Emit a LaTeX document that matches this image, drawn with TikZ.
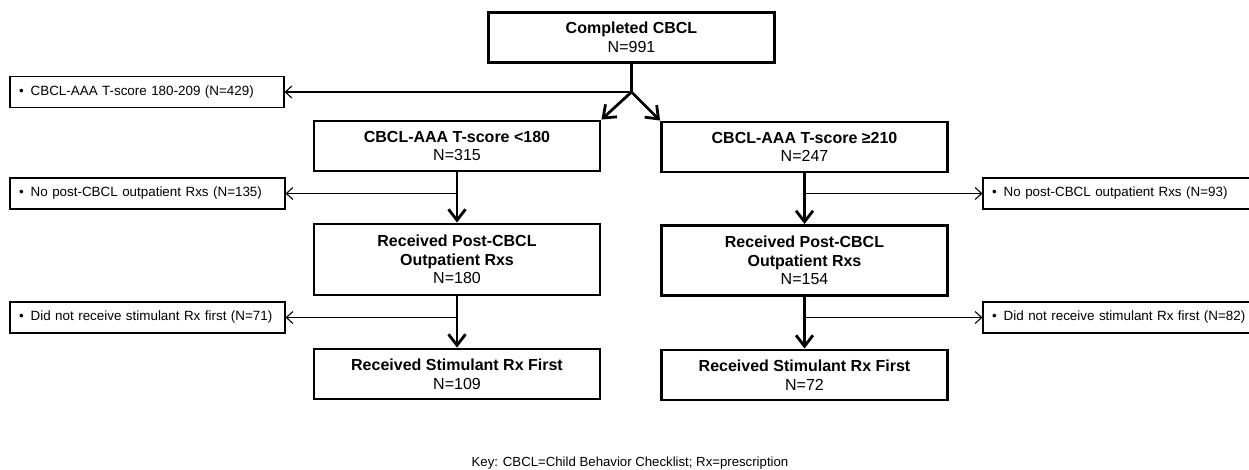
\documentclass[tikz,border=0pt]{standalone}
\usepackage{fontspec}
\setmainfont{Liberation Sans}
\usetikzlibrary{arrows.meta}
\begin{document}
\begin{tikzpicture}[x=1pt,y=-1pt,
  mainbox/.style={draw=black, line width=2.9pt, minimum width=286pt, minimum height=50pt,
    inner sep=0pt, align=center, font=\fontsize{16}{18.6}\selectfont},
  bulletbox/.style={draw=black, line width=1.1pt, minimum height=31pt, inner xsep=9pt,
    inner ysep=0pt, align=left, font=\fontsize{13.4}{15}\selectfont},
  thickarrow/.style={line width=2.8pt, -{Straight Barb[length=11pt,width=17pt,line width=2.8pt]}},
  thickline/.style={line width=2.8pt},
  thinarrow/.style={line width=1.1pt, -{Straight Barb[length=6.5pt,width=12pt,line width=1.1pt]}},
  keytext/.style={font=\fontsize{13.2}{15}\selectfont, inner sep=0pt}
]
\useasboundingbox (0,0) rectangle (1249,470);
\clip (0,0) rectangle (1249,470);

\node[mainbox] (top) at (631.5,37.5) {\textbf{Completed CBCL}\\N=991};
\node[mainbox] (L1) at (457,146) {\textbf{CBCL-AAA T-score <180}\\N=315};
\node[mainbox] (R1) at (804.5,147) {\textbf{CBCL-AAA T-score ≥210}\\N=247};
\node[mainbox, minimum height=71pt] (L2) at (457,259.5) {\textbf{Received Post-CBCL}\\\textbf{Outpatient Rxs}\\N=180};
\node[mainbox, minimum height=70pt] (R2) at (804.5,260.5) {\textbf{Received Post-CBCL}\\\textbf{Outpatient Rxs}\\N=154};
\node[mainbox] (L3) at (457,374) {\textbf{Received Stimulant Rx First}\\N=109};
\node[mainbox] (R3) at (804.5,375) {\textbf{Received Stimulant Rx First}\\N=72};

\node[bulletbox, text width=256pt] (B1) at (147,92) {\textbullet\hspace{7pt}CBCL-AAA T-score 180-209 (N=429)};
\node[bulletbox, text width=257pt] (B2L) at (147.5,193.5) {\textbullet\hspace{7pt}No post-CBCL outpatient Rxs (N=135)};
\node[bulletbox, text width=257pt] (B3L) at (147.5,317.5) {\textbullet\hspace{7pt}Did not receive stimulant Rx first (N=71)};
\node[bulletbox, text width=258pt] (B2R) at (1121,193.5) {\textbullet\hspace{7pt}No post-CBCL outpatient Rxs (N=93)};
\node[bulletbox, text width=258pt] (B3R) at (1121,317.5) {\textbullet\hspace{7pt}Did not receive stimulant Rx first (N=82)};

\node[keytext] (key) at (630,463) {Key: CBCL=Child Behavior Checklist; Rx=prescription};

% top split
\coordinate (split) at (631.5,92);
\draw[thickline] (top.south) -- (split);
\draw[thinarrow] (split) -- (B1.east);
\draw[thickarrow] (split) -- (L1.north east);
\draw[thickarrow] (split) -- (R1.north west);

% left column
\draw[thickarrow] (L1.south) -- (L2.north);
\coordinate (jL2) at (L1.south |- B2L.east);
\draw[thinarrow] (jL2) -- (B2L.east);
\draw[thickarrow] (L2.south) -- (L3.north);
\coordinate (jL3) at (L2.south |- B3L.east);
\draw[thinarrow] (jL3) -- (B3L.east);

% right column
\draw[thickarrow] (R1.south) -- (R2.north);
\coordinate (jR2) at (R1.south |- B2R.west);
\draw[thinarrow] (jR2) -- (B2R.west);
\draw[thickarrow] (R2.south) -- (R3.north);
\coordinate (jR3) at (R2.south |- B3R.west);
\draw[thinarrow] (jR3) -- (B3R.west);
\end{tikzpicture}
\end{document}
